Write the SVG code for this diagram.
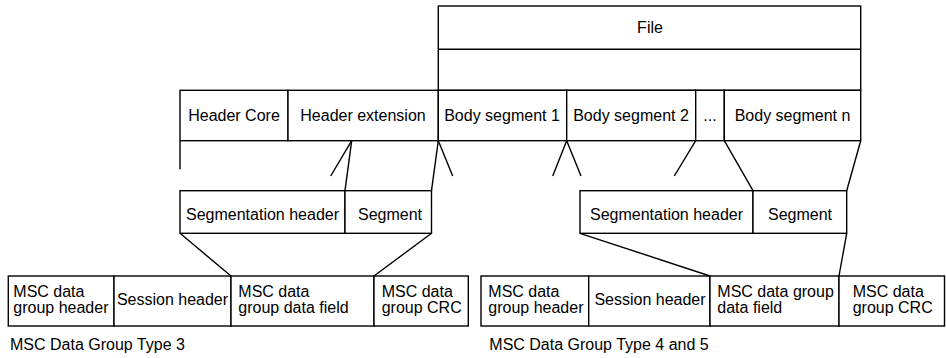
<svg xmlns="http://www.w3.org/2000/svg" width="946" height="358" viewBox="0 0 946 358">
<style>
  .b { fill: #fff; stroke: #000; stroke-width: 1.4; }
  .l { fill: none; stroke: #000; stroke-width: 1.4; stroke-linecap: butt; }
  text { font-family: "Liberation Sans", Arial, Helvetica, sans-serif; font-size: 16px; fill: #000; }
  .c { text-anchor: middle; }
</style>
<rect width="946" height="358" fill="#fff"/>

<g id="file">
  <rect class="b" x="438.3" y="6" width="422.4" height="84.3"/>
  <line class="l" x1="438.3" y1="49.3" x2="860.7" y2="49.3"/>
  <text class="c" x="650" y="33">File</text>
</g>

<g id="header-core">
  <rect class="b" x="180" y="90.3" width="108" height="50.4"/>
  <text class="c" x="234" y="121">Header Core</text>
</g>
<g id="header-extension">
  <rect class="b" x="288" y="90.3" width="150.3" height="50.4"/>
  <text class="c" x="363" y="121">Header extension</text>
</g>
<g id="body-segment-1">
  <rect class="b" x="438.3" y="90.3" width="128.4" height="50.4"/>
  <text class="c" x="502" y="121">Body segment 1</text>
</g>
<g id="body-segment-2">
  <rect class="b" x="566.7" y="90.3" width="129" height="50.4"/>
  <text class="c" x="631" y="121">Body segment 2</text>
</g>
<g id="ellipsis">
  <rect class="b" x="695.7" y="90.3" width="28.6" height="50.4"/>
  <text class="c" x="710" y="121">...</text>
</g>
<g id="body-segment-n">
  <rect class="b" x="724.3" y="90.3" width="136.4" height="50.4"/>
  <text class="c" x="792.5" y="121">Body segment n</text>
</g>

<g id="seg-left">
  <rect class="b" x="180" y="190.7" width="165" height="42.6"/>
  <rect class="b" x="345" y="190.7" width="86.5" height="42.6"/>
  <text class="c" x="262.5" y="220">Segmentation header</text>
  <text class="c" x="390" y="220">Segment</text>
</g>

<g id="seg-right">
  <rect class="b" x="580" y="190.7" width="173" height="42.6"/>
  <rect class="b" x="753" y="190.7" width="93.7" height="42.6"/>
  <text class="c" x="666.5" y="220">Segmentation header</text>
  <text class="c" x="800" y="220">Segment</text>
</g>

<g id="group-type-3">
  <rect class="b" x="8.3" y="276" width="105.7" height="50"/>
  <rect class="b" x="114" y="276" width="117" height="50"/>
  <rect class="b" x="231" y="276" width="143" height="50"/>
  <rect class="b" x="374" y="276" width="94.3" height="50"/>
  <text x="13.3" y="296.7">MSC data</text>
  <text x="13.3" y="313.3">group header</text>
  <text class="c" x="172.5" y="305">Session header</text>
  <text x="238.3" y="296.7">MSC data</text>
  <text x="238.3" y="313.3">group data field</text>
  <text x="381.7" y="296.7">MSC data</text>
  <text x="381.7" y="313.3">group CRC</text>
  <text x="10" y="350">MSC Data Group Type 3</text>
</g>

<g id="group-type-4-5">
  <rect class="b" x="481" y="276" width="107.7" height="50"/>
  <rect class="b" x="588.7" y="276" width="121.3" height="50"/>
  <rect class="b" x="710" y="276" width="129" height="50"/>
  <rect class="b" x="839" y="276" width="105.5" height="50"/>
  <text x="488.3" y="296.7">MSC data</text>
  <text x="488.3" y="313.3">group header</text>
  <text class="c" x="650" y="305">Session header</text>
  <text x="717.3" y="296.7">MSC data group</text>
  <text x="717.3" y="313.3">data field</text>
  <text x="852.7" y="296.7">MSC data</text>
  <text x="852.7" y="313.3">group CRC</text>
  <text x="489.3" y="350">MSC Data Group Type 4 and 5</text>
</g>

<g id="connectors">
  <line class="l" x1="180" y1="140.7" x2="180" y2="169.3"/>
  <line class="l" x1="351.7" y1="140.7" x2="330.7" y2="176"/>
  <line class="l" x1="351.7" y1="140.7" x2="345" y2="190.7"/>
  <line class="l" x1="438.3" y1="140.7" x2="431.5" y2="190.7"/>
  <line class="l" x1="438.3" y1="140.7" x2="452.7" y2="176"/>
  <line class="l" x1="566.7" y1="140.7" x2="552.7" y2="176"/>
  <line class="l" x1="566.7" y1="140.7" x2="581" y2="176"/>
  <line class="l" x1="695.7" y1="140.7" x2="674.3" y2="176"/>
  <line class="l" x1="724.3" y1="140.7" x2="753" y2="190.7"/>
  <line class="l" x1="860.7" y1="140.7" x2="846.7" y2="190.7"/>
  <line class="l" x1="180" y1="233.3" x2="231" y2="276"/>
  <line class="l" x1="431.5" y1="233.3" x2="374" y2="276"/>
  <line class="l" x1="580" y1="233.3" x2="710" y2="276"/>
  <line class="l" x1="846.7" y1="233.3" x2="839" y2="276"/>
</g>
</svg>
